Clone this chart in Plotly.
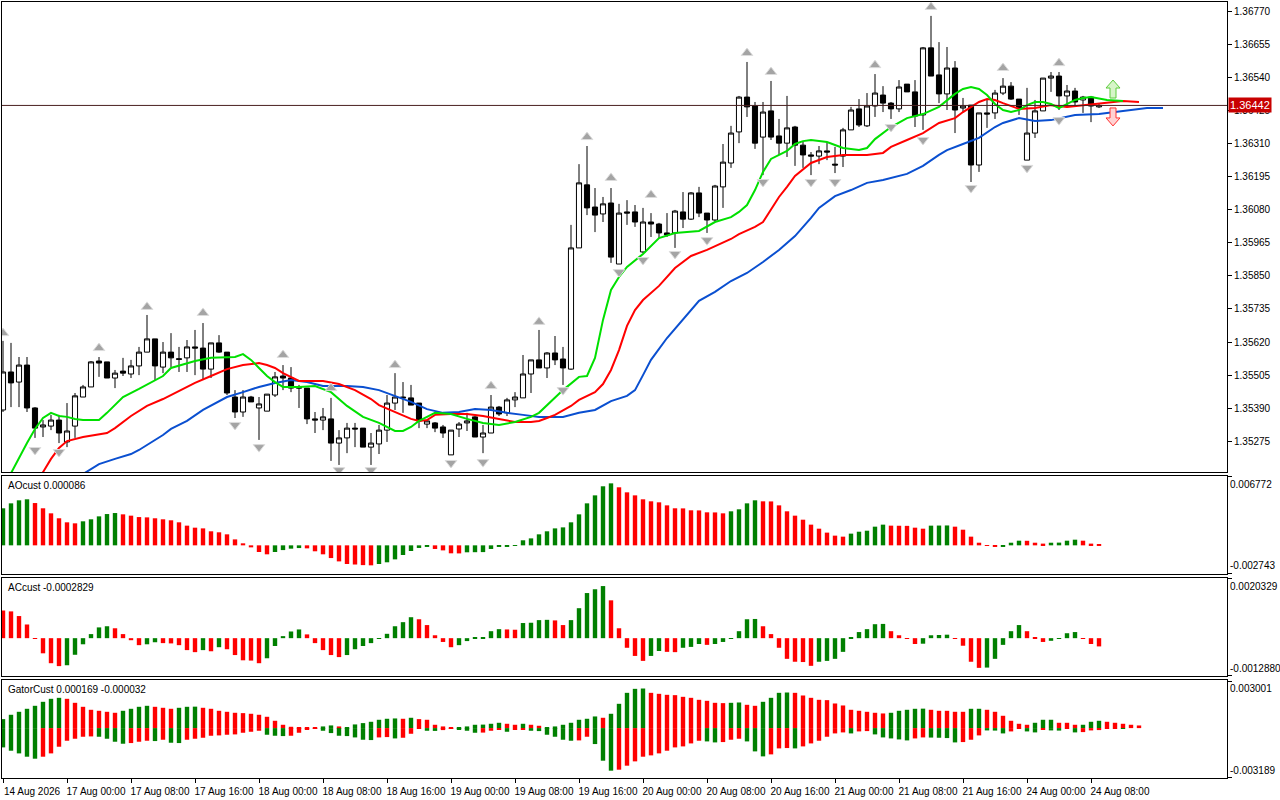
import plotly.graph_objects as go

# --- H1 candles, bar 0 = 14 Aug 16:00 ---
opens = [1.35384, 1.35516, 1.35481, 1.35540, 1.35391, 1.35325, 1.35328, 1.35349, 1.35273, 1.35328,
         1.35429, 1.35464, 1.35554, 1.35551, 1.35495, 1.35519, 1.35509, 1.35537, 1.35585, 1.35631,
         1.35533, 1.35585, 1.35562, 1.35565, 1.35603, 1.35599, 1.35526, 1.35617, 1.35585, 1.35429,
         1.35377, 1.35429, 1.35391, 1.35380, 1.35436, 1.35502, 1.35495, 1.35464, 1.35460, 1.35353,
         1.35349, 1.35353, 1.35269, 1.35287, 1.35321, 1.35321, 1.35255, 1.35266, 1.35314, 1.35408,
         1.35429, 1.35426, 1.35408, 1.35335, 1.35339, 1.35325, 1.35228, 1.35318, 1.35339, 1.35360,
         1.35290, 1.35304, 1.35394, 1.35374, 1.35419, 1.35426, 1.35509, 1.35558, 1.35530, 1.35582,
         1.35561, 1.35526, 1.35947, 1.36166, 1.36089, 1.36065, 1.36103, 1.35891, 1.36072, 1.36072,
         1.35933, 1.36037, 1.36030, 1.35999, 1.35999, 1.36072, 1.36047, 1.36138, 1.36068, 1.36044,
         1.36159, 1.36242, 1.36350, 1.36471, 1.36440, 1.36332, 1.36423, 1.36336, 1.36311, 1.36367,
         1.36304, 1.36270, 1.36266, 1.36284, 1.36238, 1.36266, 1.36357, 1.36430, 1.36371, 1.36440,
         1.36478, 1.36450, 1.36430, 1.36516, 1.36489, 1.36409, 1.36642, 1.36548, 1.36482, 1.36572,
         1.36433, 1.36443, 1.36235, 1.36416, 1.36416, 1.36485, 1.36509, 1.36464, 1.36252, 1.36346,
         1.36423, 1.36537, 1.36544, 1.36475, 1.36492, 1.36461, 1.36471, 1.36437]
highs = [1.35624, 1.35617, 1.35568, 1.35568, 1.35394, 1.35349, 1.35367, 1.35367, 1.35408, 1.35443,
         1.35471, 1.35554, 1.35568, 1.35551, 1.35523, 1.35565, 1.35558, 1.35603, 1.35714, 1.35631,
         1.35620, 1.35651, 1.35603, 1.35627, 1.35662, 1.35686, 1.35617, 1.35644, 1.35585, 1.35453,
         1.35453, 1.35433, 1.35429, 1.35439, 1.35516, 1.35540, 1.35533, 1.35471, 1.35460, 1.35377,
         1.35391, 1.35426, 1.35314, 1.35339, 1.35339, 1.35321, 1.35304, 1.35332, 1.35436, 1.35512,
         1.35481, 1.35471, 1.35408, 1.35349, 1.35342, 1.35332, 1.35314, 1.35342, 1.35374, 1.35363,
         1.35332, 1.35436, 1.35398, 1.35426, 1.35446, 1.35575, 1.35558, 1.35662, 1.35585, 1.35641,
         1.35603, 1.36027, 1.36238, 1.36301, 1.36155, 1.36124, 1.36155, 1.36100, 1.36113, 1.36096,
         1.36086, 1.36068, 1.36034, 1.36068, 1.36079, 1.36141, 1.36141, 1.36159, 1.36068, 1.36166,
         1.36308, 1.36371, 1.36475, 1.36593, 1.36454, 1.36454, 1.36527, 1.36395, 1.36475, 1.36371,
         1.36315, 1.36280, 1.36301, 1.36315, 1.36298, 1.36364, 1.36437, 1.36464, 1.36485, 1.36551,
         1.36509, 1.36454, 1.36530, 1.36516, 1.36530, 1.36645, 1.36753, 1.36662, 1.36645, 1.36596,
         1.36468, 1.36443, 1.36416, 1.36461, 1.36496, 1.36537, 1.36523, 1.36464, 1.36503, 1.36461,
         1.36537, 1.36558, 1.36558, 1.36513, 1.36503, 1.36475, 1.36475, 1.36450]
lows = [1.35377, 1.35394, 1.35394, 1.35377, 1.35287, 1.35290, 1.35314, 1.35269, 1.35255, 1.35287,
        1.35429, 1.35464, 1.35499, 1.35495, 1.35460, 1.35502, 1.35495, 1.35505, 1.35585, 1.35488,
        1.35512, 1.35533, 1.35516, 1.35516, 1.35505, 1.35488, 1.35495, 1.35582, 1.35436, 1.35356,
        1.35360, 1.35412, 1.35280, 1.35380, 1.35429, 1.35453, 1.35446, 1.35391, 1.35335, 1.35304,
        1.35314, 1.35207, 1.35193, 1.35234, 1.35255, 1.35255, 1.35193, 1.35231, 1.35273, 1.35384,
        1.35374, 1.35401, 1.35321, 1.35321, 1.35307, 1.35287, 1.35228, 1.35290, 1.35311, 1.35290,
        1.35234, 1.35304, 1.35363, 1.35363, 1.35394, 1.35426, 1.35443, 1.35530, 1.35495, 1.35540,
        1.35471, 1.35523, 1.35947, 1.36061, 1.36002, 1.36037, 1.35895, 1.35891, 1.36027, 1.36020,
        1.35929, 1.35985, 1.35981, 1.35985, 1.35947, 1.36016, 1.36044, 1.36054, 1.35999, 1.36037,
        1.36086, 1.36225, 1.36311, 1.36402, 1.36291, 1.36200, 1.36322, 1.36270, 1.36263, 1.36232,
        1.36225, 1.36200, 1.36238, 1.36252, 1.36207, 1.36228, 1.36357, 1.36367, 1.36367, 1.36402,
        1.36419, 1.36395, 1.36419, 1.36489, 1.36367, 1.36357, 1.36544, 1.36450, 1.36426, 1.36346,
        1.36419, 1.36176, 1.36211, 1.36364, 1.36395, 1.36478, 1.36461, 1.36409, 1.36252, 1.36329,
        1.36423, 1.36489, 1.36426, 1.36440, 1.36437, 1.36416, 1.36384, 1.36433]
closes = [1.35516, 1.35478, 1.35540, 1.35391, 1.35321, 1.35332, 1.35349, 1.35304, 1.35311, 1.35433,
          1.35464, 1.35551, 1.35547, 1.35495, 1.35512, 1.35512, 1.35537, 1.35585, 1.35631, 1.35537,
          1.35585, 1.35565, 1.35560, 1.35603, 1.35599, 1.35526, 1.35617, 1.35585, 1.35443, 1.35377,
          1.35429, 1.35412, 1.35405, 1.35439, 1.35499, 1.35495, 1.35460, 1.35460, 1.35353, 1.35349,
          1.35360, 1.35269, 1.35287, 1.35321, 1.35318, 1.35255, 1.35269, 1.35314, 1.35408, 1.35429,
          1.35426, 1.35401, 1.35346, 1.35346, 1.35321, 1.35304, 1.35314, 1.35335, 1.35346, 1.35290,
          1.35304, 1.35394, 1.35370, 1.35419, 1.35429, 1.35509, 1.35558, 1.35530, 1.35582, 1.35558,
          1.35530, 1.35947, 1.36173, 1.36086, 1.36061, 1.36100, 1.35915, 1.36068, 1.36068, 1.36037,
          1.36037, 1.36030, 1.35999, 1.35992, 1.36075, 1.36047, 1.36138, 1.36068, 1.36044, 1.36162,
          1.36245, 1.36346, 1.36471, 1.36437, 1.36311, 1.36419, 1.36332, 1.36311, 1.36364, 1.36304,
          1.36270, 1.36266, 1.36284, 1.36280, 1.36235, 1.36357, 1.36426, 1.36374, 1.36440, 1.36485,
          1.36450, 1.36430, 1.36506, 1.36489, 1.36405, 1.36642, 1.36544, 1.36482, 1.36572, 1.36426,
          1.36440, 1.36235, 1.36416, 1.36412, 1.36485, 1.36509, 1.36464, 1.36433, 1.36346, 1.36423,
          1.36537, 1.36544, 1.36475, 1.36492, 1.36454, 1.36471, 1.36440, 1.36442]
bars = list(range(len(closes)))
last_price = 1.36442

# --- Alligator lines (bar index, price) ---
lips_x = [0, 1, 2, 3, 4, 5, 6, 7, 8, 9, 10, 12, 13, 15, 17, 20, 21, 24, 26, 29, 30, 31, 32, 33, 34, 35,
          37, 39, 41, 42, 43, 45, 47, 49, 50, 51, 52, 53, 54, 56, 58, 60, 62, 64, 66, 67, 68, 69, 70,
          72, 73, 74, 75, 76, 77, 78, 80, 82, 84, 87, 89, 91, 92, 93, 94, 95, 96, 98, 99, 100, 101,
          103, 105, 107, 108, 109, 111, 113, 115, 117, 118, 119, 120, 121, 122, 123, 124, 125, 126,
          127, 128, 129, 130, 131, 132, 133, 134, 135, 136, 138, 140]
lips_y = [1.35112, 1.35165, 1.35217, 1.35269, 1.35318, 1.35356, 1.35374, 1.35363, 1.35360, 1.35353,
          1.35349, 1.35349, 1.35374, 1.35429, 1.35457, 1.35502, 1.35530, 1.35554, 1.35565, 1.35568,
          1.35578, 1.35558, 1.35530, 1.35502, 1.35481, 1.35464, 1.35464, 1.35467, 1.35446, 1.35422,
          1.35398, 1.35360, 1.35339, 1.35311, 1.35311, 1.35325, 1.35346, 1.35360, 1.35374, 1.35370,
          1.35353, 1.35339, 1.35332, 1.35342, 1.35360, 1.35374, 1.35401, 1.35429, 1.35453, 1.35499,
          1.35502, 1.35565, 1.35697, 1.35801, 1.35846, 1.35881, 1.35926, 1.35981, 1.35999, 1.36006,
          1.36037, 1.36054, 1.36072, 1.36096, 1.36148, 1.36211, 1.36256, 1.36284, 1.36308, 1.36318,
          1.36322, 1.36315, 1.36294, 1.36287, 1.36294, 1.36325, 1.36367, 1.36398, 1.36412, 1.36437,
          1.36461, 1.36482, 1.36499, 1.36506, 1.36499, 1.36478, 1.36447, 1.36426, 1.36419, 1.36426,
          1.36443, 1.36454, 1.36454, 1.36447, 1.36433, 1.36447, 1.36461, 1.36468, 1.36471, 1.36461,
          1.36457]
teeth_x = [4, 5, 6, 7, 8, 10, 13, 14, 16, 18, 20, 22, 24, 26, 28, 30, 32, 33, 34, 35, 37, 40, 42, 44,
           46, 47, 49, 51, 52, 53, 54, 56, 58, 60, 62, 64, 66, 67, 68, 69, 71, 72, 74, 75, 76, 77, 78,
           79, 80, 82, 84, 86, 88, 90, 91, 92, 94, 95, 96, 97, 98, 99, 101, 103, 105, 108, 110, 111,
           113, 115, 117, 119, 120, 122, 123, 124, 125, 127, 129, 131, 133, 135, 137, 140, 142]
teeth_y = [1.35130, 1.35168, 1.35214, 1.35252, 1.35276, 1.35290, 1.35304, 1.35321, 1.35363, 1.35398,
           1.35422, 1.35450, 1.35478, 1.35502, 1.35526, 1.35540, 1.35547, 1.35540, 1.35530, 1.35512,
           1.35485, 1.35485, 1.35474, 1.35453, 1.35422, 1.35401, 1.35377, 1.35353, 1.35346, 1.35349,
           1.35367, 1.35370, 1.35370, 1.35363, 1.35353, 1.35342, 1.35342, 1.35346, 1.35356, 1.35367,
           1.35398, 1.35419, 1.35446, 1.35474, 1.35523, 1.35592, 1.35676, 1.35731, 1.35766, 1.35815,
           1.35877, 1.35919, 1.35940, 1.35964, 1.35978, 1.35995, 1.36020, 1.36037, 1.36079, 1.36124,
           1.36159, 1.36197, 1.36242, 1.36263, 1.36270, 1.36270, 1.36277, 1.36298, 1.36322, 1.36346,
           1.36381, 1.36398, 1.36419, 1.36454, 1.36464, 1.36461, 1.36450, 1.36430, 1.36433, 1.36443,
           1.36437, 1.36443, 1.36450, 1.36457, 1.36454]
jaw_x = [9, 10, 12, 14, 16, 17, 18, 20, 21, 23, 25, 27, 28, 30, 32, 34, 36, 38, 40, 43, 45, 47, 49, 51,
         53, 55, 57, 59, 61, 63, 65, 67, 70, 72, 74, 76, 78, 79, 80, 81, 83, 85, 87, 89, 91, 93, 95, 97,
         99, 101, 102, 104, 106, 108, 110, 113, 115, 117, 118, 120, 122, 124, 125, 127, 129, 131, 134,
         137, 139, 141, 143, 145]
jaw_y = [1.35144, 1.35162, 1.35196, 1.35214, 1.35231, 1.35245, 1.35262, 1.35297, 1.35318, 1.35346,
         1.35384, 1.35415, 1.35429, 1.35446, 1.35464, 1.35478, 1.35488, 1.35481, 1.35467, 1.35467,
         1.35464, 1.35453, 1.35433, 1.35412, 1.35387, 1.35374, 1.35377, 1.35387, 1.35384, 1.35374,
         1.35367, 1.35360, 1.35360, 1.35374, 1.35384, 1.35415, 1.35433, 1.35453, 1.35505, 1.35558,
         1.35634, 1.35697, 1.35763, 1.35794, 1.35832, 1.35860, 1.35898, 1.35940, 1.35988, 1.36051,
         1.36086, 1.36127, 1.36148, 1.36173, 1.36183, 1.36204, 1.36232, 1.36270, 1.36287, 1.36308,
         1.36329, 1.36367, 1.36381, 1.36398, 1.36388, 1.36391, 1.36409, 1.36412, 1.36419, 1.36426,
         1.36433, 1.36433]

# --- Fractals ---
frac_up_x = [0, 12, 18, 25, 35, 41, 49, 61, 67, 73, 76, 81, 93, 96, 109, 116, 125, 132]
frac_up_y = [1.35651, 1.35599, 1.35742, 1.35721, 1.35575, 1.35460, 1.35540, 1.35467, 1.35690,
             1.36332, 1.36190, 1.36131, 1.36624, 1.36558, 1.36582, 1.36784, 1.36572, 1.36589]
frac_dn_x = [4, 7, 29, 32, 42, 46, 56, 60, 70, 77, 80, 84, 88, 95, 101, 104, 111, 115, 121, 128, 132]
frac_dn_y = [1.35245, 1.35238, 1.35332, 1.35255, 1.35175, 1.35175, 1.35200, 1.35203, 1.35453,
             1.35863, 1.35905, 1.35926, 1.35974, 1.36176, 1.36176, 1.36176, 1.36367, 1.36322,
             1.36155, 1.36225, 1.36391]

# signal arrows right of the last bar
signal_x = 138.75
signal_up_y = 1.36499
signal_dn_y = 1.36402

# --- AO ---
ao = [0.00367, 0.00416, 0.00446, 0.00456, 0.00419, 0.00367, 0.00317, 0.00268, 0.00228, 0.00218,
      0.00238, 0.00258, 0.00287, 0.00310, 0.00320, 0.00307, 0.00294, 0.00280, 0.00277, 0.00268,
      0.00258, 0.00248, 0.00228, 0.00195, 0.00175, 0.00168, 0.00139, 0.00129, 0.00109, 0.00059,
      0.00020, -0.00020, -0.00066, -0.00089, -0.00066, -0.00047, -0.00033, -0.00027, -0.00030, -0.00059,
      -0.00089, -0.00126, -0.00159, -0.00185, -0.00190, -0.00196, -0.00198, -0.00185, -0.00168, -0.00139,
      -0.00096, -0.00056, -0.00026, -0.00013, -0.00036, -0.00050, -0.00079, -0.00080, -0.00069, -0.00068,
      -0.00067, -0.00036, -0.00016, -0.00010, -0.00003, 0.00050, 0.00069, 0.00109, 0.00139, 0.00168,
      0.00178, 0.00228, 0.00307, 0.00416, 0.00495, 0.00585, 0.00614, 0.00575, 0.00525, 0.00495,
      0.00456, 0.00436, 0.00426, 0.00396, 0.00367, 0.00366, 0.00347, 0.00346, 0.00327, 0.00326,
      0.00317, 0.00337, 0.00357, 0.00416, 0.00446, 0.00436, 0.00435, 0.00396, 0.00337, 0.00294,
      0.00254, 0.00205, 0.00165, 0.00126, 0.00096, 0.00086, 0.00116, 0.00135, 0.00145, 0.00185,
      0.00205, 0.00195, 0.00194, 0.00193, 0.00175, 0.00165, 0.00195, 0.00196, 0.00197, 0.00185,
      0.00155, 0.00086, 0.00026, -0.00003, -0.00013, -0.00007, 0.00026, 0.00046, 0.00045, 0.00026,
      0.00017, 0.00026, 0.00027, 0.00046, 0.00056, 0.00046, 0.00017, 0.000086]
ao_col = ("GGGGRRRRRRGGGGGRRRRRRRRRRRRRRRRRRRGGGGRRRRRRRRRGGGGGGGRRRRGGGGGGGGGGGGGGGGGGG"
          "RRRRRRRRRRRRRRGGGGRRRRRRRRRRRGGGGGRRRRRGGGRRRRRRGGGRRRGGGGRRR")

# --- AC ---
ac = [0.00095, 0.00092, 0.00076, 0.00047, -0.00002, -0.00052, -0.00086, -0.00096, -0.00093, -0.00057,
      -0.00021, 0.00014, 0.00037, 0.00041, 0.00034, 0.00014, -0.00007, -0.00024, -0.00021, -0.00014,
      -0.00017, -0.00018, -0.00024, -0.00041, -0.00048, -0.00041, -0.00045, -0.00031, -0.00038, -0.00058,
      -0.00076, -0.00077, -0.00086, -0.00069, -0.00027, 0.00007, 0.00023, 0.00030, 0.00013, -0.00017,
      -0.00041, -0.00058, -0.00065, -0.00058, -0.00038, -0.00027, -0.00017, -0.00002, 0.00015, 0.00041,
      0.00055, 0.00072, 0.00065, 0.00045, 0.00010, -0.00013, -0.00031, -0.00024, -0.00010, 0.00003,
      0.00004, 0.00024, 0.00031, 0.00030, 0.00029, 0.00052, 0.00053, 0.00062, 0.00063, 0.00061,
      0.00045, 0.00062, 0.00103, 0.00155, 0.00168, 0.00179, 0.00130, 0.00034, -0.00033, -0.00061,
      -0.00078, -0.00061, -0.00044, -0.00047, -0.00048, -0.00033, -0.00030, -0.00020, -0.00023, -0.00020,
      -0.00013, -0.00002, 0.00024, 0.00065, 0.00066, 0.00041, 0.00014, -0.00033, -0.00071, -0.00081,
      -0.00082, -0.00095, -0.00081, -0.00078, -0.00071, -0.00047, 0.00002, 0.00021, 0.00031, 0.00048,
      0.00049, 0.00024, 0.00010, -0.00002, -0.00020, -0.00019, 0.00010, 0.00011, 0.00012, -0.00002,
      -0.00026, -0.00081, -0.00102, -0.00101, -0.00071, -0.00023, 0.00024, 0.00045, 0.00024, 0.00002,
      -0.00013, -0.00009, -0.00002, 0.00017, 0.00021, -0.00002, -0.00020, -0.000283]
ac_col = ("RRRRRRRRGGGGGGRRRRGGRRRRRGRGRRRRRGGGGGRRRRRGGGGGGGGGRRRRRGGGGGGRRGGGGRRGGGGG"
          "RRRRRGGRRGGGRGGGGGGRRRRRRRGGGGGGGGGRRRRGGGGRRRRGGGGGRRRGGGGRRR")

# --- Gator (upper shifted to bar 142, lower to bar 140) ---
gator_up = [0.000576, 0.000854, 0.001046, 0.001238, 0.001430, 0.001686, 0.001878, 0.001942, 0.001878, 0.001622,
            0.001366, 0.001174, 0.001110, 0.001046, 0.000982, 0.001110, 0.001238, 0.001366, 0.001430, 0.001366,
            0.001302, 0.001238, 0.001302, 0.001366, 0.001376, 0.001302, 0.001238, 0.001110, 0.001046, 0.000982,
            0.000960, 0.000918, 0.000854, 0.000726, 0.000469, 0.000213, 0.000085, 0.000011, 0.000006, 0.000021,
            0.000107, 0.000171, 0.000107, 0.000021, 0.000235, 0.000320, 0.000405, 0.000534, 0.000598, 0.000619,
            0.000598, 0.000662, 0.000576, 0.000534, 0.000213, 0.000107, 0.000043, 0.000053, 0.000107, 0.000213,
            0.000224, 0.000277, 0.000341, 0.000277, 0.000213, 0.000277, 0.000213, 0.000149, 0.000011, 0.000107,
            0.000213, 0.000341, 0.000534, 0.000598, 0.000747, 0.000662, 0.000918, 0.001558, 0.002262, 0.002518,
            0.002539, 0.002262, 0.002198, 0.002134, 0.002113, 0.002006, 0.001942, 0.001814, 0.001750, 0.001622,
            0.001601, 0.001622, 0.001643, 0.001494, 0.001430, 0.001686, 0.001942, 0.002262, 0.002283, 0.002262,
            0.002091, 0.001942, 0.001814, 0.001793, 0.001579, 0.001451, 0.001174, 0.001110, 0.001046, 0.000982,
            0.000939, 0.000982, 0.001110, 0.001174, 0.001238, 0.001248, 0.001174, 0.001110, 0.001109, 0.001046,
            0.001045, 0.001238, 0.001239, 0.001174, 0.001046, 0.000790, 0.000469, 0.000277, 0.000213, 0.000341,
            0.000534, 0.000535, 0.000341, 0.000340, 0.000213, 0.000214, 0.000405, 0.000469, 0.000405, 0.000341,
            0.000277, 0.000213, 0.000169]
gator_up_col = ("GGGGGGGGRRRRRRRGGGGRRRGGGRRRRRRRRRRRRRRRGGRGGGGGGGRGRRRRRGGGGGGRRGRRGGGGGGGRGGGGG"
                "RRRRRRRRRRGGRRGGGGRRRRRRRRRRRRGGGGGRRRRRGGRRRRRRGGGRRRGGGRRRRR")
gator_dn = [-0.001238, -0.001451, -0.001622, -0.001835, -0.001963, -0.001835, -0.001622, -0.001195, -0.000811, -0.000683,
            -0.000555, -0.000534, -0.000555, -0.000683, -0.000875, -0.001003, -0.000960, -0.000875, -0.000811, -0.000832,
            -0.000747, -0.000939, -0.000960, -0.000747, -0.000683, -0.000619, -0.000491, -0.000469, -0.000427, -0.000405,
            -0.000299, -0.000235, -0.000171, -0.000427, -0.000491, -0.000512, -0.000491, -0.000299, -0.000107, -0.000043,
            -0.000171, -0.000320, -0.000491, -0.000512, -0.000598, -0.000747, -0.000768, -0.000598, -0.000576, -0.000662,
            -0.000619, -0.000363, -0.000043, -0.000171, -0.000181, -0.000128, -0.000043, -0.000107, -0.000171, -0.000299,
            -0.000288, -0.000171, -0.000107, -0.000235, -0.000107, -0.000085, -0.000171, -0.000192, -0.000427, -0.000555,
            -0.000747, -0.000811, -0.000790, -0.000555, -0.001024, -0.002091, -0.002732, -0.002668, -0.002411, -0.002134,
            -0.001835, -0.001750, -0.001622, -0.001451, -0.001238, -0.001174, -0.000982, -0.000811, -0.000854, -0.000918,
            -0.000896, -0.000747, -0.000683, -0.000854, -0.001494, -0.001814, -0.001686, -0.001302, -0.001280, -0.001302,
            -0.001174, -0.000982, -0.000811, -0.000555, -0.000341, -0.000277, -0.000341, -0.000213, -0.000192, -0.000405,
            -0.000598, -0.000662, -0.000726, -0.000790, -0.000662, -0.000598, -0.000608, -0.000619, -0.000640, -0.000918,
            -0.000896, -0.000747, -0.000469, -0.000149, -0.000160, -0.000341, -0.000213, -0.000043, -0.000213, -0.000277,
            -0.000085, -0.000149, -0.000160, -0.000043, -0.000277, -0.000256, -0.000149, -0.000128, -0.000043, -0.000038,
            -0.000032]
gator_dn_col = ("GGGGGRRRRRRRGGGGRRRGRGGRRRRRRRRRRGGGRRRRGGGGGGGRRGRRRGGRRGGGRRRGRRGGGGGGRRGGGRRRRRRRRRRR"
                "GGRRRGGGRRRGRRRRRRGRRGGGGGRRGGGGRRRGGGRRGGRGGRGRRRRRG")

tick_bars = [0, 8, 16, 24, 32, 40, 48, 56, 64, 72, 80, 88, 96, 104, 112, 120, 128, 136]
tick_text = ["14 Aug 2026", "17 Aug 00:00", "17 Aug 08:00", "17 Aug 16:00", "18 Aug 00:00",
             "18 Aug 08:00", "18 Aug 16:00", "19 Aug 00:00", "19 Aug 08:00", "19 Aug 16:00",
             "20 Aug 00:00", "20 Aug 08:00", "20 Aug 16:00", "21 Aug 00:00", "21 Aug 08:00",
             "21 Aug 16:00", "24 Aug 00:00", "24 Aug 08:00"]
price_ticks = [1.35275, 1.35390, 1.35505, 1.35620, 1.35735, 1.35850, 1.35965, 1.36080,
               1.36195, 1.36310, 1.36425, 1.36540, 1.36655, 1.36770]

# sub-window scale marks: top and bottom value of each window
ao_scale = [0.006772, -0.002743]
ac_scale = [0.0020329, -0.0012880]
gator_scale = [0.003001, -0.003189]

GREEN = "#008000"
RED = "#ff0000"
FONT = "Liberation Sans"


def cols(flags):
    return [GREEN if f == "G" else RED for f in flags]


fig = go.Figure()

# main window
fig.add_trace(go.Candlestick(
    x=bars, open=opens, high=highs, low=lows, close=closes,
    increasing=dict(line=dict(color="black", width=1), fillcolor="white"),
    decreasing=dict(line=dict(color="black", width=1), fillcolor="black"),
    whiskerwidth=0, xaxis="x", yaxis="y",
))
fig.add_trace(go.Scatter(x=jaw_x, y=jaw_y, mode="lines", line=dict(color="#0a4fd0", width=2),
                         xaxis="x", yaxis="y"))
fig.add_trace(go.Scatter(x=teeth_x, y=teeth_y, mode="lines", line=dict(color="#ff0000", width=2),
                         xaxis="x", yaxis="y"))
fig.add_trace(go.Scatter(x=lips_x, y=lips_y, mode="lines", line=dict(color="#00e000", width=2),
                         xaxis="x", yaxis="y"))
fig.add_trace(go.Scatter(x=frac_up_x, y=frac_up_y, mode="markers",
                         marker=dict(symbol="triangle-up", size=10, color="#a4a4a4",
                                     line=dict(color="#dcdcdc", width=1)),
                         xaxis="x", yaxis="y"))
fig.add_trace(go.Scatter(x=frac_dn_x, y=frac_dn_y, mode="markers",
                         marker=dict(symbol="triangle-down", size=10, color="#a4a4a4",
                                     line=dict(color="#dcdcdc", width=1)),
                         xaxis="x", yaxis="y"))

# AO / AC / Gator windows
fig.add_trace(go.Bar(x=bars, y=ao, marker=dict(color=cols(ao_col), line=dict(width=0)),
                     width=0.55, xaxis="x2", yaxis="y2"))
fig.add_trace(go.Bar(x=bars, y=ac, marker=dict(color=cols(ac_col), line=dict(width=0)),
                     width=0.55, xaxis="x3", yaxis="y3"))
fig.add_trace(go.Bar(x=list(range(len(gator_up))), y=gator_up,
                     marker=dict(color=cols(gator_up_col), line=dict(width=0)),
                     width=0.55, xaxis="x4", yaxis="y4"))
fig.add_trace(go.Bar(x=list(range(len(gator_dn))), y=gator_dn,
                     marker=dict(color=cols(gator_dn_col), line=dict(width=0)),
                     width=0.55, xaxis="x4", yaxis="y4"))

# arrow objects next to the last bar
up_path = "M0,9 L7,1 L3,1 L3,-9 L-3,-9 L-3,1 L-7,1 Z"
dn_path = "M0,-9 L7,-1 L3,-1 L3,9 L-3,9 L-3,-1 L-7,-1 Z"
shapes = [
    dict(type="line", xref="paper", yref="y", x0=0, x1=1, y0=last_price, y1=last_price,
         line=dict(color="#4a2020", width=1)),
    dict(type="path", xref="x", yref="y", xsizemode="pixel", ysizemode="pixel",
         xanchor=signal_x, yanchor=signal_up_y, path=up_path,
         fillcolor="#d6f5c8", line=dict(color="#5ccc3c", width=1)),
    dict(type="path", xref="x", yref="y", xsizemode="pixel", ysizemode="pixel",
         xanchor=signal_x, yanchor=signal_dn_y, path=dn_path,
         fillcolor="#ffd2d2", line=dict(color="#ff3030", width=1)),
]

annotations = [
    dict(xref="paper", yref="y", x=1, y=last_price, xanchor="left", xshift=1, showarrow=False,
         text="1.36442", bgcolor="#c80000", font=dict(color="white", size=11, family=FONT),
         borderpad=1),
]
panel_titles = [("AOcust 0.000086", 0.3900), ("ACcust -0.0002829", 0.2587),
                ("GatorCust 0.000169 -0.000032", 0.1274)]
for txt, top in panel_titles:
    annotations.append(dict(xref="paper", yref="paper", x=0.003, y=top, xanchor="left",
                            yanchor="top", yshift=-2, showarrow=False, text=txt,
                            font=dict(size=10, family=FONT, color="black")))

axis_line = dict(showline=True, mirror=True, linecolor="black", linewidth=1,
                 showgrid=False, zeroline=False, automargin=False)
xr = [-0.125, 153.0]
tfont = dict(size=10, family=FONT, color="black")


def xaxis(anchor, labels):
    d = dict(axis_line, range=xr, anchor=anchor, tickvals=tick_bars, ticktext=tick_text)
    if labels:
        d.update(ticks="outside", ticklen=4, tickcolor="black", showticklabels=True,
                 ticklabelshift=29, ticklabelstandoff=0, tickfont=tfont)
    else:
        d.update(ticks="", showticklabels=False)
    return d


def yaxis(domain, rng, tickvals, ticktext=None, pos="outside"):
    d = dict(axis_line, domain=domain, range=rng, side="right", ticks="outside", ticklen=4,
             tickcolor="black", tickvals=tickvals, tickfont=tfont, ticklabelposition=pos)
    if ticktext:
        d["ticktext"] = ticktext
    else:
        d["tickformat"] = ".5f"
    return d


def overlay(base, domain, rng, val, txt):
    # lower scale mark of a sub-window, its label drawn just above the tick
    return dict(domain=domain, range=rng, side="right", overlaying=base, anchor="x",
                showline=False, showgrid=False, zeroline=False, automargin=False,
                ticks="outside", ticklen=4, tickcolor="black", tickvals=[val],
                ticktext=[txt], tickfont=tfont, ticklabelposition="outside top")


ao_dom, ac_dom, gt_dom = [0.2638, 0.3900], [0.1326, 0.2587], [0.0013, 0.1274]
ao_rng, ac_rng, gt_rng = [-0.002842, 0.006871], [-0.0012983, 0.0020672], [-0.00320, 0.003084]

fig.update_layout(
    width=1280, height=800,
    margin=dict(l=2, r=53, t=2, b=21, autoexpand=False),
    paper_bgcolor="white", plot_bgcolor="white",
    showlegend=False, hovermode=False,
    barmode="relative", bargap=0.3,
    boxgap=0.2, boxgroupgap=0.2,
    font=dict(family=FONT, size=10, color="black"),
    xaxis=dict(xaxis("y", False), rangeslider=dict(visible=False)),
    xaxis2=dict(xaxis("y2", False), matches="x"),
    xaxis3=dict(xaxis("y3", False), matches="x"),
    xaxis4=dict(xaxis("y4", True), matches="x"),
    yaxis=yaxis([0.3951, 1.0], [1.351685, 1.368013], price_ticks),
    yaxis2=yaxis(ao_dom, ao_rng, [ao_scale[0]], ["0.006772"], "outside bottom"),
    yaxis3=yaxis(ac_dom, ac_rng, [ac_scale[0]], ["0.0020329"], "outside bottom"),
    yaxis4=yaxis(gt_dom, gt_rng, [gator_scale[0]], ["0.003001"], "outside bottom"),
    yaxis5=overlay("y2", ao_dom, ao_rng, ao_scale[1], "-0.002743"),
    yaxis6=overlay("y3", ac_dom, ac_rng, ac_scale[1], "-0.0012880"),
    yaxis7=overlay("y4", gt_dom, gt_rng, gator_scale[1], "-0.003189"),
    shapes=shapes,
    annotations=annotations,
)
# empty carriers so the overlay scales get drawn
for ax in ["y5", "y6", "y7"]:
    fig.add_trace(go.Scatter(x=[], y=[], xaxis="x", yaxis=ax))

# the page body has a default 8px margin; remove it so the chart fills the window
fig.write_html("out.html", config={"displayModeBar": False},
               post_script="document.body.style.margin='0px';")
